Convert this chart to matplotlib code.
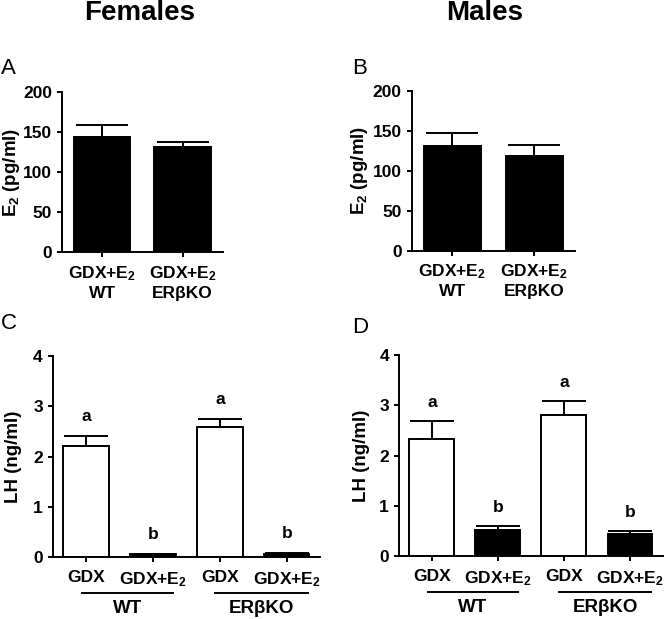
import numpy as np
import matplotlib
matplotlib.use('Agg')
import matplotlib.pyplot as plt

plt.rcParams['font.family'] = ['Liberation Sans', 'DejaVu Sans']
plt.rcParams['font.weight'] = 'bold'
plt.rcParams['axes.labelweight'] = 'bold'
plt.rcParams['mathtext.fontset'] = 'custom'
plt.rcParams['mathtext.rm'] = 'Liberation Sans:bold'
plt.rcParams['mathtext.it'] = 'Liberation Sans:bold'
plt.rcParams['mathtext.bf'] = 'Liberation Sans:bold'

# ---- datos ----
e2_labels = ['GDX+E$_2$\nWT', 'GDX+E$_2$\nER\u03b2KO']
e2_female = [144, 132]
e2_female_err = [15, 5.5]
e2_male = [131, 119]
e2_male_err = [16, 13]

lh_labels = ['GDX', 'GDX+E$_2$', 'GDX', 'GDX+E$_2$']
lh_female = [2.21, 0.06, 2.58, 0.07]
lh_female_err = [0.20, 0.01, 0.17, 0.01]
lh_male = [2.34, 0.51, 2.80, 0.43]
lh_male_err = [0.34, 0.08, 0.28, 0.06]
lh_sig = ['a', 'b', 'a', 'b']
lh_fill = ['white', 'black', 'white', 'black']
groups = ['WT', 'ER\u03b2KO']
group_span = [(-0.06, 1.3), (1.93, 3.32)]

LW = 1.4
FS = 12.5

fig = plt.figure(figsize=(6.67, 6.19), dpi=100)


def style(ax):
    for s in ['top', 'right']:
        ax.spines[s].set_visible(False)
    for s in ['left', 'bottom']:
        ax.spines[s].set_linewidth(LW)
    ax.tick_params(direction='out', length=3.6, width=LW, labelsize=FS)


def e2_panel(rect, vals, errs, label_x):
    ax = fig.add_axes(rect)
    x = np.arange(len(vals))
    ax.errorbar(x, vals, yerr=[np.zeros(len(errs)), errs], fmt='none',
                ecolor='black', elinewidth=LW, capsize=19, capthick=LW, zorder=1)
    ax.bar(x, vals, width=0.7, color='black', edgecolor='black', linewidth=LW, zorder=2)
    ax.set_xlim(-0.5, 1.5)
    ax.set_ylim(0, 200)
    ax.set_yticks([0, 50, 100, 150, 200])
    ax.set_xticks(x)
    ax.set_xticklabels(e2_labels, multialignment='center', linespacing=1.25)
    style(ax)
    ax.tick_params(axis='x', pad=5)
    ax.set_ylabel('E$_2$ (pg/ml)', fontsize=13.5)
    ax.yaxis.set_label_coords(label_x, 0.5)
    return ax


def lh_panel(rect, vals, errs, label_x):
    ax = fig.add_axes(rect)
    x = np.arange(len(vals))
    ax.errorbar(x, vals, yerr=[np.zeros(len(errs)), errs], fmt='none',
                ecolor='black', elinewidth=LW, capsize=16, capthick=LW, zorder=1)
    ax.bar(x, vals, width=0.68, color=lh_fill, edgecolor='black', linewidth=LW, zorder=2)
    for xi, v, e, s in zip(x, vals, errs, lh_sig):
        ax.annotate(s, (xi, v + e), xytext=(0, 10.5), textcoords='offset points',
                    ha='center', va='baseline', fontsize=FS)
    ax.set_xlim(-0.5, 3.5)
    ax.set_ylim(0, 4)
    ax.set_yticks([0, 1, 2, 3, 4])
    ax.set_xticks(x)
    ax.set_xticklabels(lh_labels)
    style(ax)
    ax.tick_params(axis='x', pad=6)
    ax.set_ylabel('LH (ng/ml)', fontsize=13.5)
    ax.yaxis.set_label_coords(label_x, 0.5)
    tr = ax.get_xaxis_transform()
    for g, (x0, x1) in zip(groups, group_span):
        ax.plot([x0, x1], [-0.179, -0.179], color='black', lw=LW,
                transform=tr, clip_on=False)
        ax.text((x0 + x1) / 2, -0.255, g, transform=tr, ha='center', va='center',
                fontsize=13.5)
    return ax


e2_panel([0.093, 0.593, 0.241, 0.258], e2_female, e2_female_err, -0.25)
e2_panel([0.617, 0.595, 0.245, 0.258], e2_male, e2_male_err, -0.255)
lh_panel([0.079, 0.100, 0.401, 0.325], lh_female, lh_female_err, -0.115)
lh_panel([0.598, 0.102, 0.396, 0.324], lh_male, lh_male_err, -0.11)

fig.text(0.21, 0.979, 'Females', ha='center', va='center', fontsize=20)
fig.text(0.727, 0.979, 'Males', ha='center', va='center', fontsize=20)
for s, x, y in [('A', 0.002, 0.89), ('B', 0.528, 0.889), ('C', 0.002, 0.477), ('D', 0.528, 0.471)]:
    fig.text(x, y, s, ha='left', va='center', fontsize=16, fontweight='normal')

fig.savefig('out.png', dpi=100)
